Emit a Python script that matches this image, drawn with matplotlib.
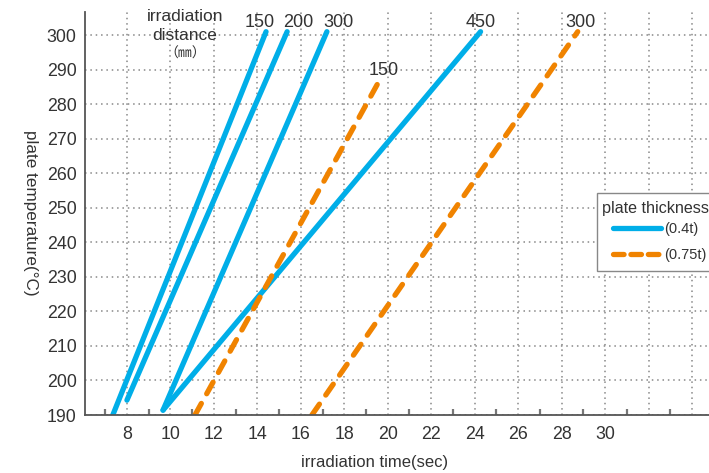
import numpy as np
import matplotlib.pyplot as plt
from matplotlib.patches import Rectangle

plt.rcParams['font.family'] = ['Liberation Sans', 'Noto Sans CJK JP']

# irradiation time (sec) vs plate temperature (C), end points of each line
# plate thickness 0.4t, irradiation distance 150/200/300/450 mm
t_150 = [7.35, 14.4]
T_150 = [190, 301]
t_200 = [8.0, 15.37]
T_200 = [194.3, 301]
t_300 = [9.66, 17.2]
T_300 = [191.4, 301]
t_450 = [9.66, 24.27]
T_450 = [191.4, 301]
# plate thickness 0.75t, distance 150/300 mm
t2_150 = [11.13, 19.69]
T2_150 = [190, 287.7]
t2_300 = [16.51, 28.74]
T2_300 = [190, 301]

x_labels = [8, 10, 12, 14, 16, 18, 20, 22, 24, 26, 28, 30]
y_ticks = np.arange(190, 301, 10)

blue = '#00aee8'
orange = '#f08300'
txt = '#333333'

fig = plt.figure(figsize=(7.09, 4.73), dpi=100)
ax = fig.add_axes([85/709, 58/473, 624/709, 403/473])

lw = 3.8
for t, T in [(t_150, T_150), (t_200, T_200), (t_300, T_300), (t_450, T_450)]:
    ax.plot(t, T, color=blue, lw=lw, solid_capstyle='round')
for t, T in [(t2_150, T2_150), (t2_300, T2_300)]:
    ax.plot(t, T, color=orange, lw=lw, linestyle=(0, (2.5, 2.1)), dash_capstyle='round')

# legend handles
ax.plot([], [], color=blue, lw=lw, solid_capstyle='round', label='(0.4t)')
ax.plot([], [], color=orange, lw=lw, linestyle=(0, (2.0, 1.3)), dash_capstyle='round', label='(0.75t)')

ax.set_xlim(6.07, 34.78)
ax.set_ylim(190, 306.7)

ax.set_xticks(np.arange(8, 35, 2))
ax.set_xticklabels([str(v) if v in x_labels else '' for v in range(8, 35, 2)])
ax.set_xticks(np.arange(7, 35, 2), minor=True)
ax.set_yticks(y_ticks)

ax.tick_params(axis='x', which='major', length=0, pad=8, labelsize=12.8, labelcolor=txt)
ax.tick_params(axis='x', which='minor', direction='in', length=4, width=1.6, color='#777777')
ax.tick_params(axis='y', length=0, pad=6, labelsize=12.8, labelcolor=txt)

ax.grid(True, which='major', linestyle=(0, (1, 2.5)), color='#888888', lw=1.1)
ax.set_axisbelow(True)

for s in ['top', 'right']:
    ax.spines[s].set_visible(False)
for s in ['left', 'bottom']:
    ax.spines[s].set_color('#555555')
    ax.spines[s].set_linewidth(1.3)

# line labels
kw = dict(ha='center', va='center', fontsize=13, color=txt, clip_on=False)
ax.text(14.12, 303.8, '150', **kw)
ax.text(15.87, 303.8, '200', **kw)
ax.text(17.71, 303.8, '300', **kw)
ax.text(24.29, 303.8, '450', **kw)
ax.text(28.85, 303.8, '300', **kw)
ax.text(19.83, 289.9, '150', **kw)

ax.text(10.67, 305.3, 'irradiation', ha='center', va='center', fontsize=12.5, color=txt)
ax.text(10.67, 299.8, 'distance', ha='center', va='center', fontsize=12.5, color=txt)
ax.text(10.67, 294.6, '（㎜）', ha='center', va='center', fontsize=10, color=txt,
        family=['Noto Sans CJK JP', 'DejaVu Sans'])

fig.text(30/709, 1 - 213/473, 'plate temperature(°C)', rotation=270,
         ha='center', va='center', fontsize=12.3, color=txt)
fig.text(375/709, 1 - 462/473, 'irradiation time(sec)', ha='center', va='center',
         fontsize=12, color=txt)

# legend: frame and title drawn by hand, entries from ax.legend
ax.add_patch(Rectangle((597/709, 1 - 271/473), 130/709, 78/473,
                       transform=fig.transFigure, facecolor='white', clip_on=False,
                       edgecolor='#888888', lw=1.0, zorder=5))
ax.text(602/709, 1 - 208/473, 'plate thickness', ha='left', va='center',
        transform=fig.transFigure, fontsize=11.6, color=txt, zorder=6)
leg = ax.legend(loc='upper left', bbox_to_anchor=(613/709, 1 - 222/473),
                bbox_transform=fig.transFigure, frameon=False,
                fontsize=10.5, handlelength=3.3, handletextpad=0.2,
                borderaxespad=0, borderpad=0, labelspacing=0.85)
leg.set_zorder(7)
for t in leg.get_texts():
    t.set_color(txt)

fig.savefig('out.png', dpi=100)
